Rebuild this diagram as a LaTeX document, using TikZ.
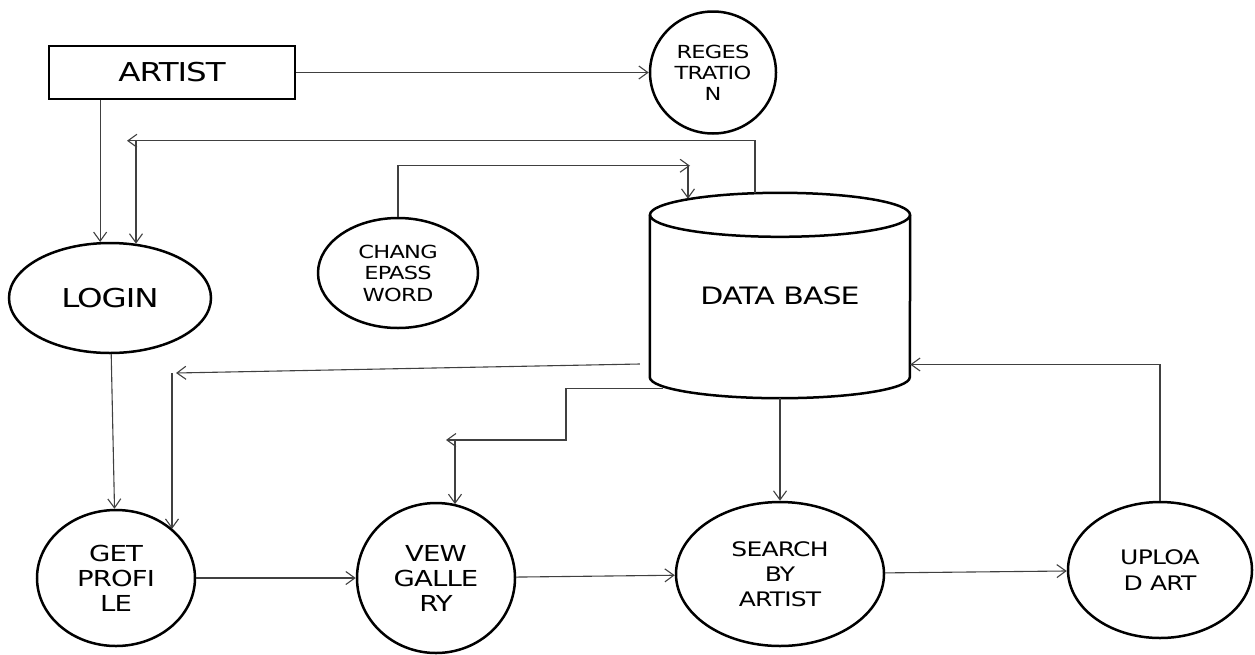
\documentclass[tikz,border=0pt]{standalone}
\usepackage{fontspec}
\setmainfont{DejaVu Sans}[FakeStretch=1.25,LetterSpace=-4]
\usepackage{tikz}
\usetikzlibrary{positioning}
\usetikzlibrary{shapes.geometric}
\usetikzlibrary{arrows.meta}

\tikzset{
  entity/.style={draw, line width=2.5pt, rectangle, inner sep=0pt,
    minimum width=246pt, minimum height=53pt, font=\fontsize{26}{30}\selectfont},
  process/.style={draw, line width=2.5pt, ellipse, inner sep=0pt, align=center},
  store/.style={rectangle, inner sep=0pt, minimum width=260pt, minimum height=205pt,
    font=\fontsize{24}{28}\selectfont},
  storeline/.style={line width=2.5pt},
  flow/.style={draw=black!75, line width=1.1pt, -{Straight Barb[length=9pt,width=13pt]}},
}

\begin{document}
\begin{tikzpicture}[on grid]
    \useasboundingbox (0,0) rectangle (1255pt,-654pt);

    \node[entity] (artist) at (172pt,-72.5pt) {ARTIST};
    \node[process, right=541pt of artist, minimum width=126pt, minimum height=122pt,
      font=\fontsize{18}{21}\selectfont] (reg) {REGES\\TRATIO\\N};
    \node[process, below left=225.5pt and 62pt of artist, minimum width=202pt, minimum height=110pt,
      font=\fontsize{26}{30}\selectfont] (login) {LOGIN};
    \node[process, above right=25pt and 288pt of login, minimum width=160pt, minimum height=110pt,
      font=\fontsize{18}{21.5}\selectfont] (chpass) {CHANG\\EPASS\\WORD};
    \node[store, above right=2.5pt and 670pt of login] (db) {\raisebox{-10pt}{DATA BASE}};
    \node[process, below right=280pt and 6pt of login, minimum width=158pt, minimum height=136pt,
      font=\fontsize{22}{25}\selectfont] (getprof) {GET\\PROFI\\LE};
    \node[process, right=320pt of getprof, minimum width=158pt, minimum height=150pt,
      font=\fontsize{22}{25}\selectfont] (gallery) {VEW\\GALLE\\RY};
    \node[process, above right=4pt and 344pt of gallery, minimum width=208pt, minimum height=144pt,
      font=\fontsize{20}{25}\selectfont] (search) {SEARCH\\BY\\ARTIST};
    \node[process, above right=4pt and 380pt of search, minimum width=184pt, minimum height=136pt,
      font=\fontsize{20}{26}\selectfont] (upload) {UPLOA\\D ART};

    % the data store drum
    \draw[storeline] ([yshift=-22pt]db.north) ellipse [x radius=130pt, y radius=22pt];
    \draw[storeline] ([yshift=-22pt]db.north west) -- ([yshift=21pt]db.south west)
      arc [start angle=180, end angle=360, x radius=130pt, y radius=21pt]
      -- ([yshift=-22pt]db.north east);

    % free ends of the bent connectors
    \coordinate[above right=101pt and 17pt of login.north] (lgend);
    \coordinate[right=9pt of lgend] (lgdrop);
    \coordinate[above right=51pt and 292pt of chpass.north] (cpend);
    \coordinate[left=2pt of cpend] (cpdrop);
    \coordinate[below left=68.5pt and 10pt of db.west] (gpstart);
    \coordinate[above right=205pt and 60pt of getprof] (gpend);
    \coordinate[left=4pt of gpend] (gpdrop);
    \coordinate[above left=10pt and 117pt of db.south] (gvstart);
    \coordinate[above right=138pt and 10pt of gallery] (gvend);
    \coordinate[right=9pt of gvend] (gvdrop);

    % Connect the nodes
    \draw[flow] (artist) -- (reg);
    \draw[flow] (artist.south -| login.100) -- (login.100);
    \draw[flow] ([xshift=-25pt]db.north) |- (lgend);
    \draw[flow] (lgdrop) -- (lgdrop |- login.64);
    \draw[flow] (chpass.north) |- (cpend);
    \draw[flow] (cpdrop) -- ([yshift=-6pt]cpdrop |- db.north);
    \draw[flow] (login) -- (getprof);
    \draw[flow] (gpstart) -- (gpend);
    \draw[flow] (gpdrop) -- (gpdrop |- getprof.41);
    \draw[flow] (gvstart) -- ++(-97pt,0) |- (gvend);
    \draw[flow] (gvdrop) -- (gvdrop |- gallery.75);
    \draw[flow] (db.south) -- (search.north);
    \draw[flow] (getprof) -- (gallery);
    \draw[flow] (gallery) -- (search);
    \draw[flow] (search) -- (upload);
    \draw[flow] (upload.north) |- ([yshift=-69pt]db.east);
\end{tikzpicture}
\end{document}
